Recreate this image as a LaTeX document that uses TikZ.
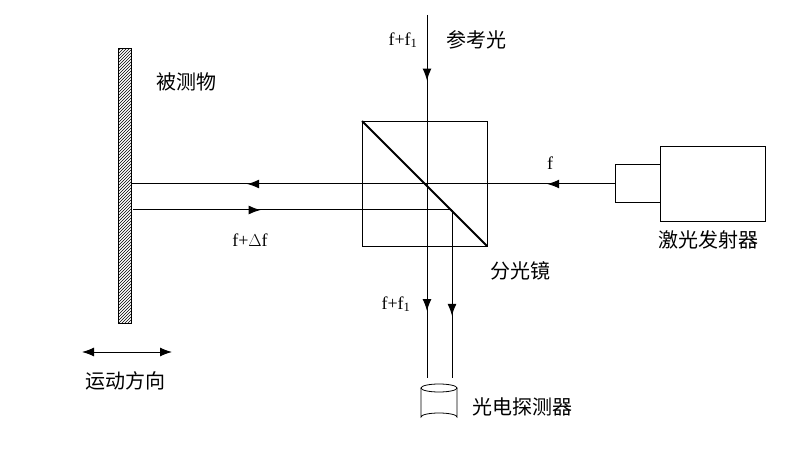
\documentclass[tikz,border=0pt]{standalone}
\usepackage{fontspec}
\setmainfont{Liberation Serif}
\newfontfamily\cjk{Noto Sans CJK SC}
\usetikzlibrary{patterns,arrows.meta,decorations.markings}
\tikzset{
  beam/.style={line width=1pt},
  midarr/.style={postaction={decorate},decoration={markings,mark=at position #1 with {\arrow{Latex[length=12pt,width=9pt]}}}},
  lbl/.style={font=\cjk\fontsize{20}{22}\selectfont, inner sep=0pt},
  flbl/.style={font=\fontsize{18}{20}\selectfont, inner sep=0pt}
}
\begin{document}
\begin{tikzpicture}[x=1pt,y=-1pt]
\useasboundingbox (0,0) rectangle (795,457);

% object being measured
\draw [pattern=north east lines, line width=1pt] (118,49) rectangle (131,323);
\node [lbl] (obj) at (186,82) {被测物};

% splitter cube
\draw [line width=0.8pt] (362,121) rectangle (487,246);
\draw [line width=2pt] (362,121) -- (487,246);
\node [lbl] (bs) at (520,271) {分光镜};

% laser
\draw [line width=1pt] (615,165) rectangle (660,203);
\draw [line width=1pt] (660,147) rectangle (765,222);
\node [lbl] (laser) at (708,240) {激光发射器};

% detector
\draw [line width=0.8pt] (421,388) -- (421,417) arc (180:360:18 and 4) -- (457,388);
\draw [line width=0.8pt] (439,388) ellipse (18 and 4);
\node [lbl] (det) at (522,407) {光电探测器};

% beams
\draw [beam, midarr=0.14] (615,184) -- (131,184);
\draw [beam, midarr=0.76] (615,184) -- (131,184);
\draw [beam, midarr=0.40] (133,210) -- (452,210);
\draw [beam, midarr=0.63] (452,210) -- (452,378);
\draw [beam, midarr=0.57] (427,15) -- (427,130);
\draw [beam, midarr=0.73] (427,130) -- (427,378);

\node [flbl] (fa) at (403,40) {f+f\textsubscript{1}};
\node [lbl] (ref) at (476,40) {参考光};
\node [flbl] (f) at (550,163) {f};
\node [flbl] (fd) at (250,240) {f+$\Delta$f};
\node [flbl] (fb) at (396,304) {f+f\textsubscript{1}};

% motion direction
\draw [beam, {Latex[length=12pt,width=9pt]}-{Latex[length=12pt,width=9pt]}] (82,352) -- (172,352);
\node [lbl] (mov) at (125,381) {运动方向};
\end{tikzpicture}
\end{document}
